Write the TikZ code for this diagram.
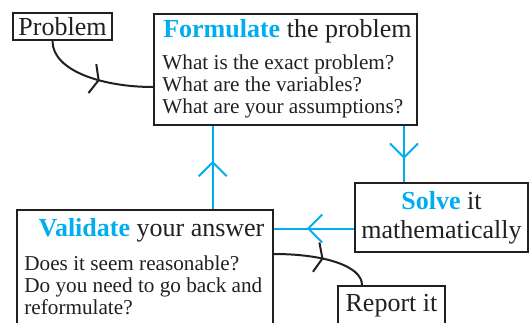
\documentclass[tikz,border=0pt]{standalone}
\usepackage{fontspec}
\setmainfont{Liberation Serif}
\usetikzlibrary{arrows.meta,decorations.markings}
\definecolor{stepcyan}{RGB}{0,174,239}
\definecolor{ink}{RGB}{35,31,32}
\newcommand{\stepname}[1]{\textbf{\color{stepcyan}#1}}
\tikzset{
  stagebox/.style={draw=ink,line width=1pt,inner sep=0pt},
  bigtext/.style={font=\fontsize{13}{14.3}\selectfont},
  smalltext/.style={font=\fontsize{10.6}{11}\selectfont,align=left,anchor=north west,inner sep=0pt},
  flow/.style={draw=stepcyan,color=stepcyan,line width=1pt,postaction=decorate,
    decoration={markings,mark=at position #1 with {\arrow{Straight Barb[length=7pt,width=14pt]}}}},
  route/.style={draw=ink,color=ink,line width=1pt,postaction=decorate,
    decoration={markings,mark=at position #1 with {\arrow{Straight Barb[length=3.2pt,width=15pt]}}}},
}

\begin{document}
\begin{tikzpicture}[x=0.5pt,y=-0.5pt,text=ink]
	\useasboundingbox (0,0) rectangle (529,322);
	\clip (0,0) rectangle (529,322);
	\node[stagebox,bigtext,minimum width=49.5pt,minimum height=13.5pt] (prob) at (62.5,26.5) {Problem};
	\node[stagebox,minimum width=131.5pt,minimum height=55.5pt] (form) at (285.5,69.5) {};
	\node[bigtext,anchor=base] (formtitle) at (287.5,37.3) {\stepname{Formulate} the problem};
	\node[smalltext] (formask) at (162,54.8) {What is the exact problem?\\What are the variables?\\What are your assumptions?};
	\node[stagebox,bigtext,align=center,minimum width=86.5pt,minimum height=34.75pt] (solve) at (441.5,217.5) {\stepname{Solve} it\\mathematically};
	\node[stagebox,anchor=north,minimum width=128pt,minimum height=70pt] (valid) at (145,209) {};
	\node[bigtext,anchor=base] (validtitle) at (151.5,236.7) {\stepname{Validate} your answer};
	\node[smalltext] (validask) at (24,255.5) {Does it seem reasonable?\\Do you need to go back and\\reformulate?};
	\node[stagebox,bigtext,anchor=north,minimum width=53.5pt,text height=9pt,text depth=20pt,inner ysep=3.85pt] (report) at (391.5,285) {Report it};
	\coordinate (upfoot) at ([xshift=33.85pt]valid.north);
	\coordinate (downfoot) at ([xshift=-18.75pt]solve.north);
	\coordinate (leftfoot) at ([yshift=-5.5pt]solve.west);
	\draw[route=0.55] ([xshift=-5pt]prob.south) .. controls +(0,30) and +(-50,0) .. ([yshift=-8.75pt]form.west);
	\draw[route=0.5] ([yshift=13pt]valid.east) .. controls +(50,0) and +(0,-19) .. ([xshift=-14.75pt]report.north);
	\draw[flow=0.58] (upfoot) -- (upfoot |- form.south);
	\draw[flow=0.59] (downfoot |- form.south) -- (downfoot);
	\draw[flow=0.59] (leftfoot) -- (leftfoot -| valid.east);
\end{tikzpicture}
\end{document}
